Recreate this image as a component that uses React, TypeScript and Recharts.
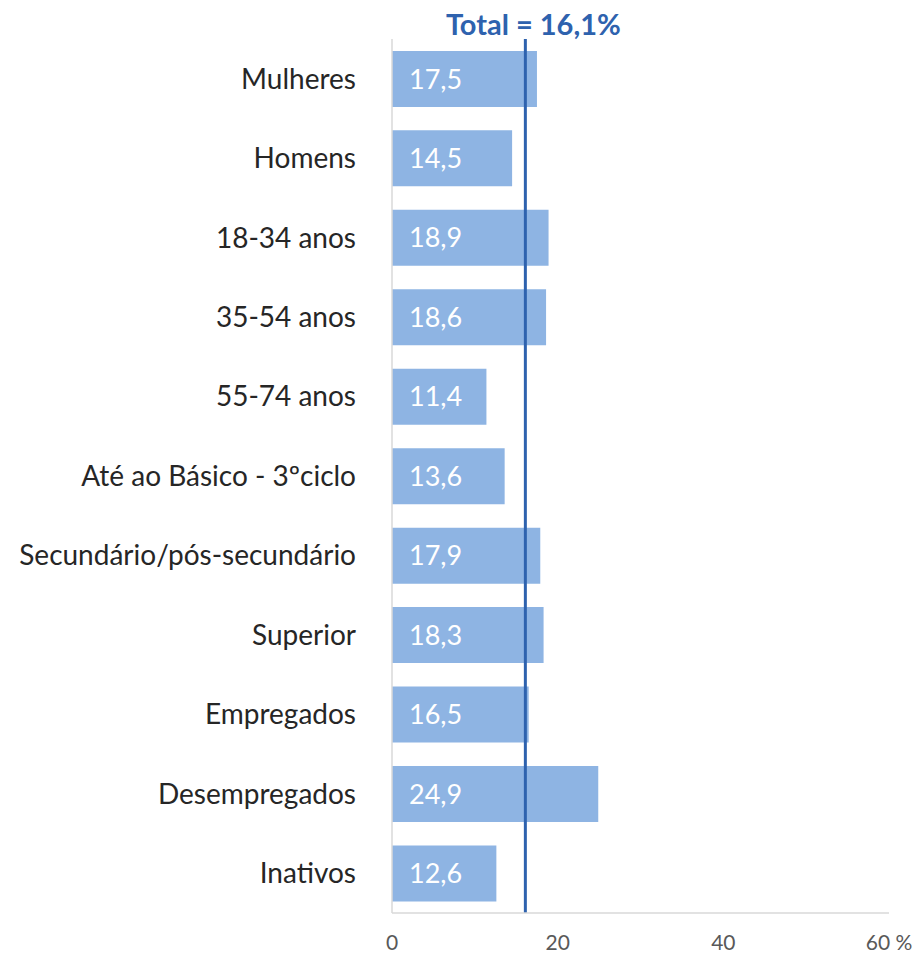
import React from "react";
import { BarChart, Bar, XAxis, YAxis, ReferenceLine, LabelList } from "recharts";

const categories = [
  "Mulheres",
  "Homens",
  "18-34 anos",
  "35-54 anos",
  "55-74 anos",
  "Até ao Básico - 3ºciclo",
  "Secundário/pós-secundário",
  "Superior",
  "Empregados",
  "Desempregados",
  "Inativos",
];
const values = [17.5, 14.5, 18.9, 18.6, 11.4, 13.6, 17.9, 18.3, 16.5, 24.9, 12.6];
const xTicks = [0, 20, 40, 60];
const totalValue = 16.1;

const data = categories.map((c, i) => ({ name: c, value: values[i] }));

const FONT = "Lato, 'Open Sans', sans-serif";

export default function App() {
  return (
    <div style={{ position: "absolute", left: 0, top: 0, width: 924, height: 953, background: "#fff" }}>
      <BarChart
        width={924}
        height={953}
        data={data}
        layout="vertical"
        margin={{ top: 39, right: 35, bottom: 0, left: 0 }}
        barCategoryGap="15%"
      >
        <XAxis
          type="number"
          domain={[0, 60]}
          ticks={xTicks}
          interval={0}
          height={40}
          tickLine={false}
          tickMargin={16}
          axisLine={{ stroke: "#D9D9D9", strokeWidth: 1.5 }}
          tick={{ fontSize: 21, fill: "#595959", fontFamily: FONT }}
          tickFormatter={(v: number) => (v === 60 ? "60 %" : String(v))}
        />
        <YAxis
          type="category"
          dataKey="name"
          width={392}
          tickLine={false}
          tickMargin={30}
          axisLine={{ stroke: "#D9D9D9", strokeWidth: 1.5 }}
          tick={{ fontSize: 28, fill: "#262626", fontFamily: FONT }}
          interval={0}
        />
        <Bar dataKey="value" fill="#8EB4E3" isAnimationActive={false}>
          <LabelList
            dataKey="value"
            position="insideLeft"
            offset={17}
            formatter={(v: number) => v.toFixed(1).replace(".", ",")}
            style={{ fill: "#FFFFFF", fontSize: 27, fontFamily: FONT }}
          />
        </Bar>
        <ReferenceLine
          x={totalValue}
          stroke="#2E62AE"
          strokeWidth={3}
          ifOverflow="extendDomain"
          label={{
            value: "Total = 16,1%",
            position: "top",
            offset: 4,
            dx: 8,
            fill: "#2E62AE",
            fontSize: 29,
            fontWeight: "bold",
            fontFamily: FONT,
          }}
        />
      </BarChart>
    </div>
  );
}
